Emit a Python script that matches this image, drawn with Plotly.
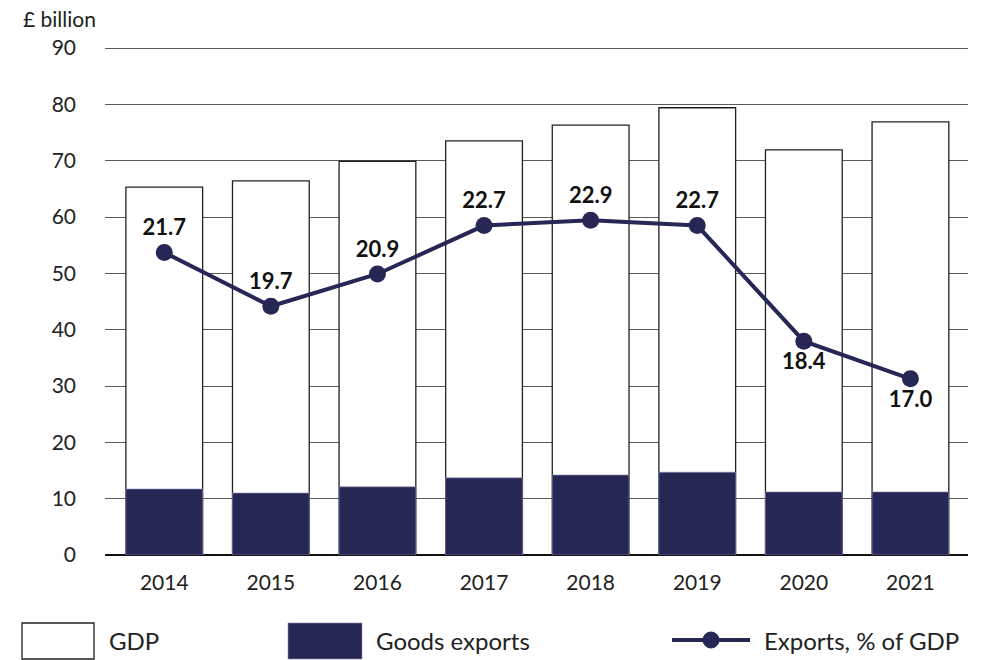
import plotly.graph_objects as go

years = ["2014", "2015", "2016", "2017", "2018", "2019", "2020", "2021"]
gdp = [65.3, 66.4, 69.9, 73.5, 76.3, 79.4, 71.9, 76.9]
goods_exports = [11.7, 11.0, 12.1, 13.7, 14.2, 14.7, 11.2, 11.2]
exports_pct = [21.7, 19.7, 20.9, 22.7, 22.9, 22.7, 18.4, 17.0]
label_pos = ["top center"] * 6 + ["bottom center"] * 2
y_ticks = [0, 10, 20, 30, 40, 50, 60, 70, 80, 90]

NAVY = "#262755"
FONT = "Lato"

fig = go.Figure()
fig.add_trace(go.Bar(
    x=years, y=gdp, name="GDP", width=0.72,
    marker=dict(color="white", line=dict(color="#222222", width=1.3)),
    showlegend=False,
))
fig.add_trace(go.Bar(
    x=years, y=goods_exports, name="Goods exports", width=0.72,
    marker=dict(color=NAVY, line=dict(color="#8a8db0", width=0.6)),
    showlegend=False,
))
fig.add_trace(go.Scatter(
    x=years, y=exports_pct, name="Exports, % of GDP", yaxis="y2",
    mode="lines+markers+text",
    line=dict(color=NAVY, width=4),
    marker=dict(color=NAVY, size=17),
    text=[f"{v:.1f}" for v in exports_pct],
    textposition=label_pos,
    textfont=dict(family=FONT, size=22, color="#111111", weight="bold"),
    showlegend=False, cliponaxis=False,
))

fig.update_layout(
    width=988, height=660,
    margin=dict(l=105, r=20, t=47, b=105),
    plot_bgcolor="white", paper_bgcolor="white",
    barmode="overlay", showlegend=False,
    font=dict(family=FONT, size=19, color="#222222"),
    xaxis=dict(range=[-0.556, 7.54], showgrid=False, showline=False,
               ticks="", ticklabelstandoff=13,
               tickfont=dict(size=21, color="#222222")),
    yaxis=dict(range=[0, 90.18], tickvals=y_ticks, showgrid=True,
               gridcolor="#5a5a5a", gridwidth=1, zeroline=True,
               zerolinecolor="#111111", zerolinewidth=1.5,
               ticks="", ticklabelstandoff=28,
               tickfont=dict(size=21, color="#222222")),
    yaxis2=dict(range=[10.45, 29.34], overlaying="y", visible=False),
    annotations=[
        dict(text="£ billion", x=0, y=1, xref="paper", yref="paper",
             xanchor="left", yanchor="middle", xshift=-84, yshift=29,
             showarrow=False, font=dict(size=21, color="#222222")),
        dict(text="GDP", x=0, y=0, xref="paper", yref="paper",
             xanchor="left", yanchor="middle", xshift=2, yshift=-85,
             showarrow=False, font=dict(size=24, color="#222222")),
        dict(text="Goods exports", x=0, y=0, xref="paper", yref="paper",
             xanchor="left", yanchor="middle", xshift=269, yshift=-85,
             showarrow=False, font=dict(size=24, color="#222222")),
        dict(text="Exports, % of GDP", x=0, y=0, xref="paper", yref="paper",
             xanchor="left", yanchor="middle", xshift=657, yshift=-85,
             showarrow=False, font=dict(size=24, color="#222222")),
    ],
    shapes=[
        dict(type="rect", xref="paper", yref="paper", xsizemode="pixel",
             ysizemode="pixel", xanchor=0, yanchor=0, x0=-83, x1=-11,
             y0=-104, y1=-68, fillcolor="white",
             line=dict(color="#222222", width=1.3)),
        dict(type="rect", xref="paper", yref="paper", xsizemode="pixel",
             ysizemode="pixel", xanchor=0, yanchor=0, x0=183, x1=257,
             y0=-104, y1=-68, fillcolor=NAVY,
             line=dict(color="#8a8db0", width=0.6)),
        dict(type="line", xref="paper", yref="paper", xsizemode="pixel",
             ysizemode="pixel", xanchor=0, yanchor=0, x0=567, x1=645,
             y0=-85, y1=-85, line=dict(color=NAVY, width=4)),
        dict(type="circle", xref="paper", yref="paper", xsizemode="pixel",
             ysizemode="pixel", xanchor=0, yanchor=0, x0=598, x1=614,
             y0=-93, y1=-77, fillcolor=NAVY, line=dict(color=NAVY, width=1)),
    ],
)

fig.write_html("out.html")
